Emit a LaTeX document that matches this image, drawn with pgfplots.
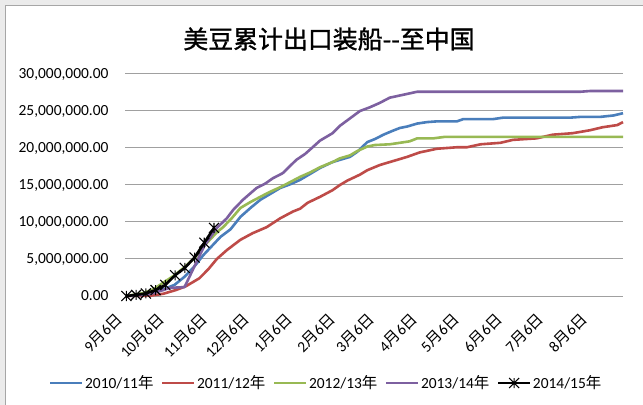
\documentclass[border=0pt]{standalone}
\usepackage{pgfplots}
\pgfplotsset{compat=1.18}
\usepackage{pgfplotstable}
\usepackage{fontspec}
\setmainfont{Carlito}
\newfontfamily\cjk{Noto Sans CJK SC}
\newfontfamily\cjkb[FakeBold=1.2]{Noto Sans CJK SC}
\definecolor{sblue}{HTML}{4A7EBB}
\definecolor{sred}{HTML}{BE4B48}
\definecolor{sgreen}{HTML}{98B954}
\definecolor{spurple}{HTML}{7D60A0}
\definecolor{gridc}{HTML}{A0A0A0}
\newcommand{\md}[2]{#1{\cjk 月}#2{\cjk 日}}
\pgfdeclareplotmark{xstar}{%
 \pgfpathmoveto{\pgfqpoint{-\pgfplotmarksize}{-\pgfplotmarksize}}%
 \pgfpathlineto{\pgfqpoint{\pgfplotmarksize}{\pgfplotmarksize}}%
 \pgfpathmoveto{\pgfqpoint{-\pgfplotmarksize}{\pgfplotmarksize}}%
 \pgfpathlineto{\pgfqpoint{\pgfplotmarksize}{-\pgfplotmarksize}}%
 \pgfpathmoveto{\pgfqpoint{0pt}{-\pgfplotmarksize}}%
 \pgfpathlineto{\pgfqpoint{0pt}{\pgfplotmarksize}}%
 \pgfusepathqstroke}

% x = days after 6 Sept, y = million tonnes
\pgfplotstableread{
d v
1 0
13 0.2
20 0.5
27.5 0.9
35.6 1.5
42.8 2.6
49.9 4.0
56.2 5.5
68.7 8.0
75.8 9.0
83 10.7
90.2 11.9
97.3 13.0
104.5 13.8
111.6 14.6
118.8 15.1
125.9 15.7
133.1 16.5
140.2 17.3
149.2 18.1
154.5 18.4
161.7 18.8
167.1 19.5
174.2 20.8
179.6 21.2
185.8 21.8
192.1 22.3
197.5 22.7
202.8 22.9
210 23.3
217.1 23.5
224.3 23.6
238.6 23.6
243.1 23.9
264.5 23.9
271.7 24.1
320 24.1
327.1 24.2
341.4 24.2
351.3 24.4
358 24.7
}\sblue

\pgfplotstableread{
d v
1 0
18.6 0.05
27.5 0.3
36.5 0.8
43.6 1.3
53.5 2.4
59.8 3.6
66 5.0
73.2 6.2
83 7.6
91.9 8.5
101.8 9.3
111.6 10.5
120.6 11.4
125.9 11.8
131.3 12.6
140.2 13.4
149.2 14.3
154.5 15.0
159.9 15.6
168.9 16.4
174.2 17.0
183.2 17.7
188.5 18.0
197.5 18.5
202.8 18.8
211.8 19.4
224.3 19.9
238.6 20.1
245.8 20.1
255.6 20.5
269.9 20.7
278.9 21.1
295.8 21.3
307.5 21.8
321.8 22.0
334.3 22.4
343.2 22.8
353.9 23.1
358 23.5
}\sred

\pgfplotstableread{
d v
1 0
13.2 0.4
20.4 0.9
27.5 1.8
35.6 2.8
42.8 3.9
50.8 5.3
58 7.0
66 8.6
70.5 9.3
76.7 10.5
83 11.9
90.2 12.7
97.3 13.4
104.5 14.1
111.6 14.7
118.8 15.4
125.9 16.1
133.1 16.7
140.2 17.4
149.2 18.1
154.5 18.6
161.7 19.0
167.1 19.6
174.2 20.2
179.6 20.4
190.3 20.5
197.5 20.7
204.6 20.9
210 21.3
221.6 21.3
229.7 21.5
358 21.5
}\sgreen

\pgfplotstableread{
d v
1 0
9.7 0.1
18.6 0.3
27.5 0.8
32 1.1
42.8 1.2
49.9 4.0
57.1 6.8
66 9.2
73.2 10.5
77.6 11.6
84.8 13.0
94.6 14.6
100.9 15.2
106.2 15.9
113.4 16.6
118.8 17.6
123.2 18.4
129.5 19.2
134.9 20.1
140.2 21.0
144.7 21.5
149.2 22.0
154.5 23.0
161.7 24.0
168.9 25.0
176 25.5
183.2 26.1
190.3 26.8
200.2 27.2
210 27.6
327.1 27.6
334.3 27.7
358 27.7
}\spurple

\pgfplotstableread{
d v
1 0
8 0.15
15 0.35
22 0.8
29 1.5
36 2.8
43 3.8
50 5.2
57 7.2
64 9.2
}\sblack

\begin{document}
\begin{tikzpicture}
\path[use as bounding box] (0,0) rectangle (643bp,405bp);
\fill[black!8] (0,0) rectangle (643bp,405bp);
\filldraw[fill=white,draw=black!35,line width=0.8bp] (5.5bp,-2bp) rectangle (646bp,399.5bp);
\node[font=\cjkb\fontsize{25}{29}\selectfont] at (329bp,366bp) {美豆累计出口装船{-}{-}至中国};
\begin{axis}[
  at={(125bp,109bp)}, anchor=south west,
  scale only axis, width=498bp, height=222bp,
  xmin=0, xmax=358, ymin=0, ymax=30,
  axis line style={draw=none},
  tick style={draw=none},
  ymajorgrids, grid style={gridc,line width=1bp},
  ytick={0,5,10,15,20,25,30},
  yticklabels={{0.00},{5,000,000.00},{10,000,000.00},{15,000,000.00},{20,000,000.00},{25,000,000.00},{30,000,000.00}},
  yticklabel style={font=\fontsize{15.5}{18}\selectfont, xshift=-13bp},
  xtick={0,30,61,91,122,153,181,212,242,273,303,334},
  xticklabels={\md{9}{6},\md{10}{6},\md{11}{6},\md{12}{6},\md{1}{6},\md{2}{6},\md{3}{6},\md{4}{6},\md{5}{6},\md{6}{6},\md{7}{6},\md{8}{6}},
  xticklabel style={font=\fontsize{15.5}{18}\selectfont, xshift=-3bp, yshift=-18bp, rotate=45, anchor=east},
  legend columns=5,
  legend style={draw=none, fill=none, at={(-0.153,-0.392)}, anchor=west, font=\fontsize{15.5}{18}\selectfont, inner sep=0pt,
    nodes={inner xsep=1.5bp},
    /tikz/every even column/.append style={column sep=6bp}},
  legend image code/.code={\draw[mark repeat=2,mark phase=2,#1] plot coordinates {(0bp,0bp) (16bp,0bp) (32bp,0bp)};},
  every axis plot/.append style={line width=2.6bp, line join=round},
  clip=false,
]
\addplot[sblue, no markers] table[x=d,y=v] {\sblue};
\addlegendentry{2010/11{\cjk 年}}
\addplot[sred, no markers] table[x=d,y=v] {\sred};
\addlegendentry{2011/12{\cjk 年}}
\addplot[sgreen, no markers] table[x=d,y=v] {\sgreen};
\addlegendentry{2012/13{\cjk 年}}
\addplot[spurple, no markers] table[x=d,y=v] {\spurple};
\addlegendentry{2013/14{\cjk 年}}
\addplot[black, mark=xstar, mark size=5bp, mark options={line width=1.1bp}] table[x=d,y=v] {\sblack};
\addlegendentry{2014/15{\cjk 年}}
\end{axis}
\end{tikzpicture}
\end{document}
